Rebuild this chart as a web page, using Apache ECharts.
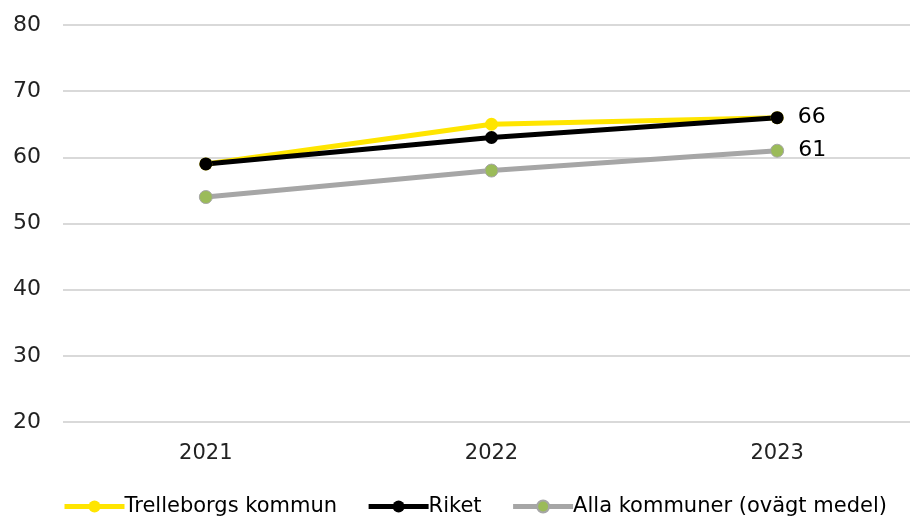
<!DOCTYPE html>
<html><head><meta charset="utf-8">
<script src="https://cdn.jsdelivr.net/npm/echarts@6/dist/echarts.min.js"></script>
<style>html,body{margin:0;padding:0;background:#fff}#c{width:910px;height:518px}</style>
</head><body><div id="c"></div>
<script>
const categories = ['2021', '2022', '2023'];
const trelleborg = [59, 65, 66];
const riket = [59, 63, 66];
const allaKommuner = [54, 58, 61];
const yTicks = [20, 30, 40, 50, 60, 70, 80];

const font = '"DejaVu Sans", "Noto Sans", sans-serif';
const chart = echarts.init(document.getElementById('c'));
function endLabel() {
  return {
    show: true, position: 'right', distance: 14,
    color: '#000', fontSize: 22, fontFamily: font,
    formatter: p => p.dataIndex === categories.length - 1 ? p.value : ''
  };
}
chart.setOption({
  animation: false,
  grid: { left: 63, right: -10, top: 25, height: 397, containLabel: false, outerBoundsMode: 'none' },
  legend: {
    left: 57, top: 491, itemWidth: 60, itemHeight: 15, itemGap: 29,
    lineStyle: { width: 5 },
    textStyle: { fontSize: 21, fontFamily: font, color: '#000', padding: [0, 0, 0, -5] },
    data: ['Trelleborgs kommun', 'Riket', 'Alla kommuner (ovägt medel)']
  },
  xAxis: {
    type: 'category', data: categories, boundaryGap: true,
    axisLine: { show: false }, axisTick: { show: false },
    axisLabel: { fontSize: 21, fontFamily: font, color: '#222', margin: 21 }
  },
  yAxis: {
    type: 'value', min: yTicks[0], max: yTicks[yTicks.length - 1], interval: 10,
    axisLine: { show: false }, axisTick: { show: false },
    axisLabel: { fontSize: 22, fontFamily: font, color: '#222', margin: 22,
      formatter: v => yTicks.includes(v) ? String(v) : '' },
    splitLine: { lineStyle: { color: '#d9d9d9', width: 2 } }
  },
  series: [
    { name: 'Trelleborgs kommun', type: 'line', data: trelleborg,
      symbol: 'circle', symbolSize: 13,
      lineStyle: { color: '#FFE500', width: 5 },
      itemStyle: { color: '#FFE500' } },
    { name: 'Riket', type: 'line', data: riket,
      symbol: 'circle', symbolSize: 13,
      lineStyle: { color: '#000000', width: 5 },
      itemStyle: { color: '#000000' },
      label: endLabel() },
    { name: 'Alla kommuner (ovägt medel)', type: 'line', data: allaKommuner,
      symbol: 'circle', symbolSize: 13,
      lineStyle: { color: '#A6A6A6', width: 5 },
      itemStyle: { color: '#9BBB59', borderColor: '#A6A6A6', borderWidth: 1 },
      label: endLabel() }
  ]
});
</script></body></html>
